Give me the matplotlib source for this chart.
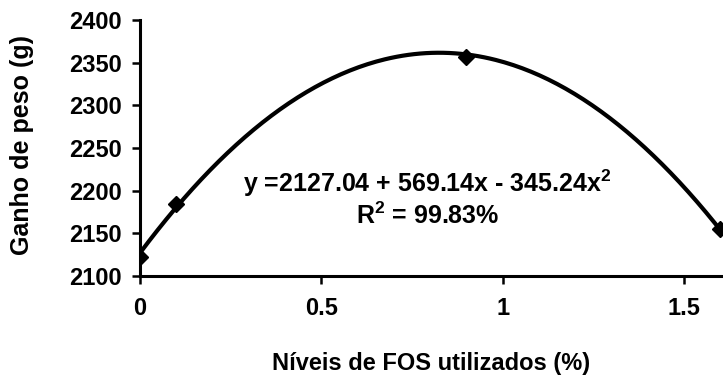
import numpy as np
import matplotlib
matplotlib.use("Agg")
import matplotlib.pyplot as plt

# data
fos_levels = [0, 0.1, 0.9, 1.6]
weight_gain = [2122, 2185, 2357, 2155]
# regression coefficients printed on the chart
coef = [2127.04, 569.14, -345.24]
yticks = [2100, 2150, 2200, 2250, 2300, 2350, 2400]
xticks = [0, 0.5, 1, 1.5]
xtick_labels = ["0", "0.5", "1", "1.5"]

plt.rcParams['font.family'] = ['Liberation Sans', 'DejaVu Sans']
plt.rcParams['font.weight'] = 'bold'
plt.rcParams['mathtext.fontset'] = 'custom'
plt.rcParams['mathtext.rm'] = 'Liberation Sans:bold'
plt.rcParams['mathtext.it'] = 'Liberation Sans:bold'
plt.rcParams['mathtext.bf'] = 'Liberation Sans:bold'
plt.rcParams['mathtext.default'] = 'rm'

fig = plt.figure(figsize=(7.23, 3.84), dpi=100)
ax = fig.add_axes([0.1936, 0.281, 0.8064, 0.667])

xs = np.linspace(0, 1.6, 200)
ys = coef[0] + coef[1] * xs + coef[2] * xs ** 2
ax.plot(xs, ys, color='black', lw=3, zorder=2)
ax.plot(fos_levels, weight_gain, 'D', color='black', ms=8, zorder=3)

ax.set_xlim(0, 1.607)
ax.set_ylim(2100, 2400)
ax.set_xticks(xticks)
ax.set_xticklabels(xtick_labels)
ax.set_yticks(yticks)
ax.spines['top'].set_visible(False)
ax.spines['right'].set_visible(False)
ax.spines['left'].set_linewidth(2.2)
ax.spines['bottom'].set_linewidth(2.2)
ax.tick_params(axis='y', direction='out', length=6, width=1.8, pad=7, labelsize=17)
ax.tick_params(axis='x', direction='out', length=6, width=1.8, pad=9, labelsize=17)

ax.set_ylabel("Ganho de peso (g)", fontsize=18, fontweight='bold')
ax.yaxis.set_label_coords(-0.182, 0.51)
ax.set_xlabel("Níveis de FOS utilizados (%)", fontsize=17, fontweight='bold')
ax.xaxis.set_label_coords(0.5, -0.297)

ax.text(0.793, 2209, r"y =2127.04 + 569.14x - 345.24x$^2$", ha='center', va='center',
        fontsize=18, fontweight='bold')
ax.text(0.793, 2171, r"R$^2$ = 99.83%", ha='center', va='center',
        fontsize=18, fontweight='bold')

plt.savefig("out.png", dpi=100)
